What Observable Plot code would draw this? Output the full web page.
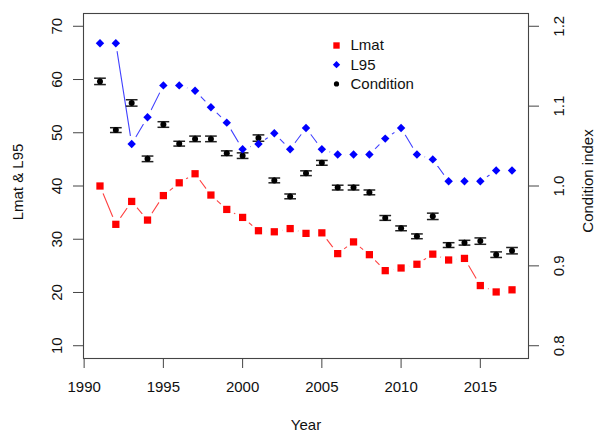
<!DOCTYPE html>
<html>
<head>
<meta charset="utf-8">
<script src="https://cdn.jsdelivr.net/npm/d3@7"></script>
<script src="https://cdn.jsdelivr.net/npm/@observablehq/plot@0.6"></script>
<style>
  html, body { margin: 0; padding: 0; background: #fff; }
  #chart svg { display: block; }
</style>
</head>
<body>
<div id="chart"></div>
<script>
// ---- data ----
const years = [1991,1992,1993,1994,1995,1996,1997,1998,1999,2000,2001,2002,2003,2004,2005,2006,2007,2008,2009,2010,2011,2012,2013,2014,2015,2016,2017];
const lmat = [40.0,32.8,37.1,33.6,38.2,40.6,42.3,38.3,35.6,34.1,31.6,31.4,32.0,31.1,31.2,27.3,29.5,27.1,24.1,24.6,25.3,27.2,26.1,26.4,21.3,20.1,20.5];
const l95 = [66.8,66.8,47.9,52.9,58.9,58.9,57.9,54.8,51.9,46.9,47.9,49.9,46.9,50.9,46.9,45.9,45.9,45.9,48.9,50.9,45.9,45.0,40.9,40.9,40.9,42.9,42.9];
const condition = [1.131,1.070,1.104,1.034,1.077,1.053,1.059,1.059,1.041,1.038,1.060,1.007,0.987,1.016,1.029,0.998,0.998,0.992,0.960,0.947,0.937,0.962,0.926,0.929,0.931,0.914,0.919];
const conditionErr = [0.004,0.003,0.004,0.0035,0.0035,0.003,0.0035,0.0035,0.003,0.0035,0.004,0.003,0.003,0.003,0.003,0.003,0.003,0.003,0.003,0.003,0.003,0.004,0.003,0.003,0.004,0.0035,0.004];

const xTicks = [1990,1995,2000,2005,2010,2015];
const leftTicks = [10,20,30,40,50,60,70];
const rightTicks = [0.8,0.9,1.0,1.1,1.2];
const legendLabels = ["Lmat","L95","Condition"];
const legendColors = ["red","blue","black"];
const legendSymbols = ["square","diamond2","circle"];
const legendR = [3.6,3.3,2.6];

const xLabel = "Year";
const leftLabel = "Lmat & L95";
const rightLabel = "Condition index";

// right axis (condition) mapped onto the left scale: 0.8..1.2 <-> 10..70
const toLeft = c => 10 + (c - 0.8) * 150;
const fromLeft = v => (v - 10) / 150 + 0.8;

const rows = years.map((year, i) => ({
  year, lmat: lmat[i], l95: l95[i], cond: condition[i], err: conditionErr[i]
}));

const capHalf = 0.37;
const font = "'Liberation Sans', Arial, Helvetica, sans-serif";

const legendMarks = legendLabels.flatMap((lab, i) => [
  Plot.dot([lab], {frameAnchor: "top-left", dx: 253, dy: 32 + 19.2 * i, symbol: legendSymbols[i], r: legendR[i], fill: legendColors[i]}),
  Plot.text([lab], {frameAnchor: "top-left", dx: 267, dy: 32 + 19.2 * i, text: d => d, textAnchor: "start", lineAnchor: "middle", fill: "#111", fontSize: 15})
]);

const chart = Plot.plot({
  width: 596,
  height: 432,
  marginLeft: 83,
  marginRight: 68,
  marginTop: 13,
  marginBottom: 74,
  style: {fontFamily: font, fontSize: "15px", color: "#111", background: "#fff"},
  x: {domain: [1989.96, 2018.04]},
  y: {domain: [7.6, 72.4]},
  marks: [
    Plot.axisX({ticks: xTicks, tickSize: 10, tickPadding: 13, tickFormat: d => String(d), label: null, stroke: "#444", fontSize: 15}),
    Plot.axisY({anchor: "left", ticks: leftTicks, tickSize: 10, tickPadding: 12, tickRotate: -90, tickFormat: d => String(d), label: null, stroke: "#444", fontSize: 15}),
    Plot.axisY({anchor: "right", ticks: rightTicks.map(toLeft), tickSize: 10, tickPadding: 25, tickRotate: -90, tickFormat: d => fromLeft(d).toFixed(1), label: null, stroke: "#444", fontSize: 15}),
    Plot.frame({stroke: "#444", strokeWidth: 1.1}),
    Plot.line(rows, {x: "year", y: "lmat", stroke: "red", strokeWidth: 1.1, strokeOpacity: 0.75}),
    Plot.line(rows, {x: "year", y: "l95", stroke: "blue", strokeWidth: 1.1, strokeOpacity: 0.75}),
    Plot.dot(rows, {x: "year", y: "lmat", r: 8.2, fill: "white"}),
    Plot.dot(rows, {x: "year", y: "l95", r: 8.2, fill: "white"}),
    Plot.ruleX(rows, {x: "year", y1: d => toLeft(d.cond - d.err), y2: d => toLeft(d.cond + d.err), stroke: "#111", strokeWidth: 1.2}),
    Plot.link(rows, {x1: d => d.year - capHalf, x2: d => d.year + capHalf, y1: d => toLeft(d.cond + d.err), y2: d => toLeft(d.cond + d.err), stroke: "#222", strokeWidth: 1.5}),
    Plot.link(rows, {x1: d => d.year - capHalf, x2: d => d.year + capHalf, y1: d => toLeft(d.cond - d.err), y2: d => toLeft(d.cond - d.err), stroke: "#222", strokeWidth: 1.5}),
    Plot.dot(rows, {x: "year", y: d => toLeft(d.cond), r: 3, fill: "black"}),
    Plot.dot(rows, {x: "year", y: "lmat", symbol: "square", r: 4.1, fill: "red"}),
    Plot.dot(rows, {x: "year", y: "l95", symbol: "diamond2", r: 3.8, fill: "blue"}),
    ...legendMarks,
    Plot.text([xLabel], {frameAnchor: "bottom", dy: 66.5, text: d => d, textAnchor: "middle", lineAnchor: "middle", fill: "#111", fontSize: 15}),
    Plot.text([leftLabel], {frameAnchor: "left", dx: -65, dy: -4, rotate: -90, text: d => d, textAnchor: "middle", lineAnchor: "middle", fill: "#111", fontSize: 15}),
    Plot.text([rightLabel], {frameAnchor: "right", dx: 60, dy: -5, rotate: -90, text: d => d, textAnchor: "middle", lineAnchor: "middle", fill: "#111", fontSize: 15})
  ]
});
document.getElementById("chart").appendChild(chart);
</script>
</body>
</html>
